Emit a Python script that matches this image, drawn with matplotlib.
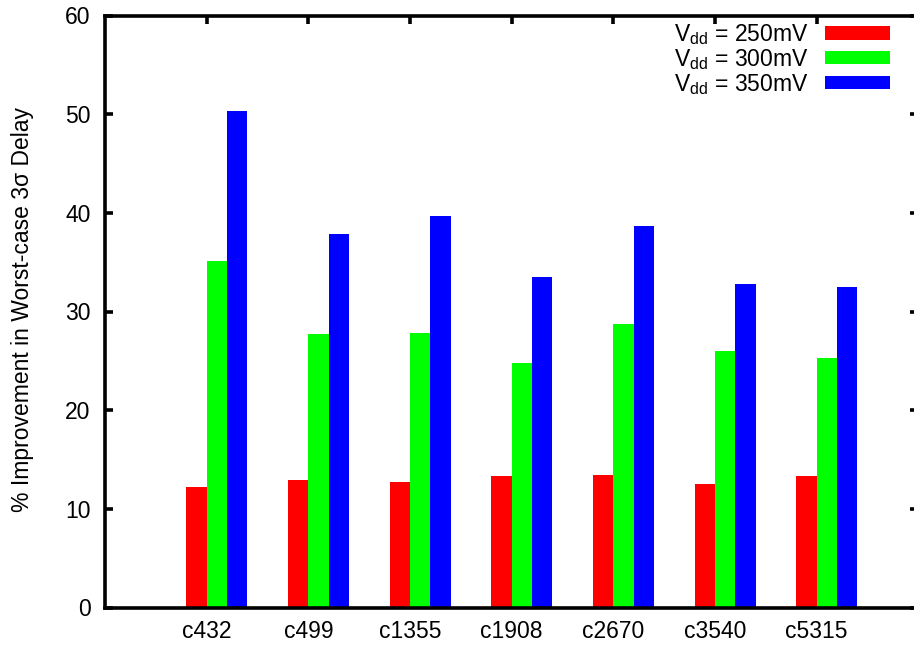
import numpy as np
import matplotlib
matplotlib.use('Agg')
import matplotlib.pyplot as plt

# data
categories = ['c432', 'c499', 'c1355', 'c1908', 'c2670', 'c3540', 'c5315']
vdd250 = [12.2, 12.9, 12.7, 13.3, 13.4, 12.5, 13.3]
vdd300 = [35.1, 27.7, 27.8, 24.8, 28.7, 26.0, 25.3]
vdd350 = [50.3, 37.9, 39.7, 33.5, 38.7, 32.8, 32.5]
labels = [r'V$_{\rm dd}$ = 250mV', r'V$_{\rm dd}$ = 300mV', r'V$_{\rm dd}$ = 350mV']
colors = ['#ff0000', '#00ff00', '#0000ff']

plt.rcParams['font.family'] = ['Liberation Sans', 'DejaVu Sans']
plt.rcParams['mathtext.fontset'] = 'custom'
plt.rcParams['mathtext.rm'] = 'Liberation Sans'
plt.rcParams['font.size'] = 16.5

W, H = 914, 647
fig = plt.figure(figsize=(W / 100, H / 100), dpi=100)
# right border of the frame lies just outside the image, as in the reference
ax = fig.add_axes([105 / W, (H - 607.5) / H, 813.3 / W, 592 / H])

x = np.arange(len(categories))
bw = 0.2
for k, (vals, c, lab) in enumerate(zip([vdd250, vdd300, vdd350], colors, labels)):
    ax.bar(x + (k - 1) * bw, vals, width=bw, align='edge', color=c, label=lab,
           linewidth=0)

ax.set_xlim(-1, 7)
ax.set_ylim(0, 60)
ax.set_xticks(x)
ax.set_xticklabels(categories)
ax.set_yticks(np.arange(0, 61, 10))

for s in ax.spines.values():
    s.set_linewidth(2.6)
ax.spines['right'].set_visible(False)

ax.tick_params(axis='y', direction='in', length=5.5, width=2.6, left=True,
               right=True, pad=10.5)
ax.tick_params(axis='x', direction='in', length=5.5, width=2.6, bottom=False,
               top=True, pad=9)

fig.text(22.5 / W, 1 - 310 / H, r'% Improvement in Worst-case 3σ Delay',
         rotation=90, ha='center', va='center', fontsize=16.5)

ax.legend(loc='upper right', bbox_to_anchor=(890 / W, 1 - 22 / H),
          bbox_transform=fig.transFigure, frameon=False, markerfirst=False,
          borderpad=0, borderaxespad=0, handlelength=2.83, handleheight=0.52,
          handletextpad=0.73, labelspacing=0.0, fontsize=16.5)

fig.savefig('out.png', dpi=100)
